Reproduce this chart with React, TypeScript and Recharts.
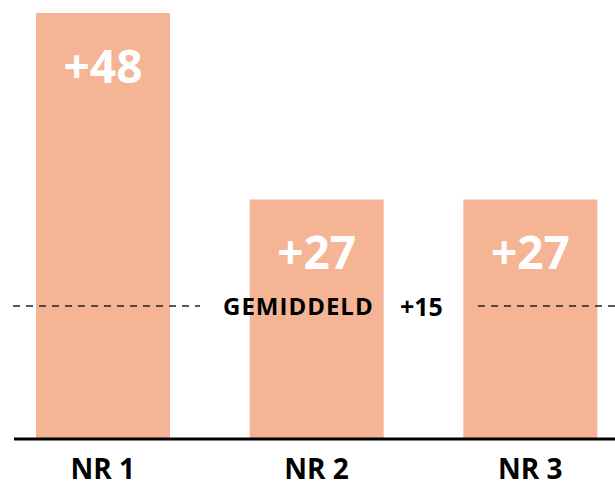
import React from 'react'
import { BarChart, Bar, XAxis, YAxis, ReferenceLine, LabelList } from 'recharts'

const categories = ['NR 1', 'NR 2', 'NR 3']
const values = [48, 27, 27]
const valueLabels = ['+48', '+27', '+27']
const average = 15
const averageName = 'GEMIDDELD'
const averageLabel = '+15'

const data = categories.map((name, i) => ({ name, value: values[i], label: valueLabels[i] }))

const BAR_COLOR = '#F5B494'
const FONT = '"Open Sans", "DejaVu Sans", sans-serif'

const XTick = (props: any) => {
  const { x, y, payload } = props
  return (
    <text x={x} y={y + 32} textAnchor="middle" fontFamily={FONT} fontWeight={700} fontSize={28} fill="#000">
      {payload.value}
    </text>
  )
}

const ValueLabel = (props: any) => {
  const { x, y, width, value } = props
  return (
    <text
      x={x + width / 2}
      y={y + 52}
      textAnchor="middle"
      dominantBaseline="central"
      fontFamily={FONT}
      fontWeight={700}
      fontSize={46}
      fill="#fff"
    >
      {value}
    </text>
  )
}

// dashed average line with a gap for its caption
const AverageLine = (props: any) => {
  const { y1 } = props
  return (
    <g>
      <line x1={13} y1={y1} x2={200} y2={y1} stroke="#222" strokeWidth={1.5} strokeDasharray="7 6" />
      <line x1={478} y1={y1} x2={615} y2={y1} stroke="#222" strokeWidth={1.5} strokeDasharray="7 6" />
      <text x={223} y={y1} dominantBaseline="central" fontFamily={FONT} fontWeight={700} fontSize={24} letterSpacing={1} fill="#000">
        {averageName}
      </text>
      <text x={400} y={y1} dominantBaseline="central" fontFamily={FONT} fontWeight={700} fontSize={25} fill="#000">
        {averageLabel}
      </text>
    </g>
  )
}

const BaseLine = (props: any) => {
  const { y1 } = props
  return <line x1={14} y1={y1} x2={615} y2={y1} stroke="#000" strokeWidth={3} />
}

export default function App() {
  return (
    <div style={{ position: 'absolute', left: 0, top: 0, width: 615, height: 488, background: '#fff' }}>
      <BarChart width={615} height={488} data={data} margin={{ top: 13, right: -22, left: -4, bottom: 0 }}>
        <XAxis dataKey="name" height={49} axisLine={false} tickLine={false} tick={<XTick />} interval={0} />
        <YAxis hide domain={[0, 48]} />
        <Bar dataKey="value" fill={BAR_COLOR} barSize={134} isAnimationActive={false}>
          <LabelList dataKey="label" content={<ValueLabel />} />
        </Bar>
        <ReferenceLine y={average} shape={<AverageLine />} />
        <ReferenceLine y={0} shape={<BaseLine />} />
      </BarChart>
    </div>
  )
}
